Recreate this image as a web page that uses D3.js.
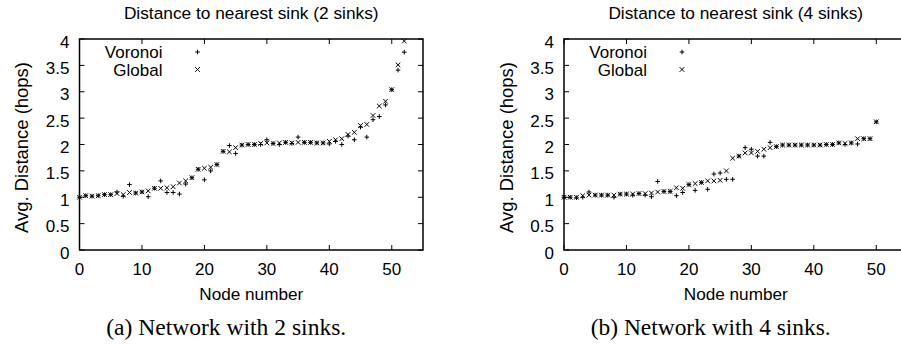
<!DOCTYPE html>
<html>
<head>
<meta charset="utf-8">
<script src="https://cdn.jsdelivr.net/npm/d3@7"></script>
<style>
  body { margin: 0; background: #fff; }
  svg { display: block; }
  text { font-family: "Liberation Sans", Arial, sans-serif; fill: #000; }
  .caption { font-family: "Liberation Serif", "Times New Roman", serif; }
</style>
</head>
<body>
<svg id="chart" width="901" height="344"></svg>
<script>
// values, index = node number
const voronoi2 = [1.0, 1.03, 1.02, 1.03, 1.05, 1.05, 1.1, 1.02, 1.24, 1.08, 1.1, 1.01, 1.17, 1.31, 1.09, 1.09, 1.06, 1.25, 1.37, 1.53,
  1.33, 1.5, 1.62, 1.87, 1.98, 1.83, 1.99, 2.0, 2.0, 2.0, 2.09, 2.02, 2.0, 2.04, 2.02, 2.14, 2.04, 2.04, 2.03, 2.03,
  2.01, 2.06, 2.0, 2.16, 2.09, 2.33, 2.14, 2.47, 2.53, 2.75, 3.04, 3.41, 3.75];
const global2 = [1.0, 1.03, 1.02, 1.03, 1.05, 1.05, 1.07, 1.05, 1.09, 1.08, 1.1, 1.12, 1.17, 1.17, 1.18, 1.2, 1.27, 1.31, 1.37, 1.53,
  1.55, 1.57, 1.62, 1.87, 1.86, 1.94, 1.99, 2.0, 2.0, 2.02, 2.03, 2.02, 2.03, 2.04, 2.03, 2.04, 2.04, 2.04, 2.03, 2.03,
  2.06, 2.09, 2.11, 2.19, 2.23, 2.36, 2.38, 2.55, 2.73, 2.82, 3.04, 3.51, 3.96];
const voronoi4 = [1.0, 1.0, 0.99, 1.0, 1.1, 1.04, 1.04, 1.04, 1.0, 1.06, 1.06, 1.04, 1.07, 1.04, 1.01, 1.3, 1.11, 1.11, 1.03, 1.09,
  1.24, 1.13, 1.28, 1.15, 1.44, 1.46, 1.34, 1.34, 1.78, 1.94, 1.91, 1.78, 1.78, 2.04, 1.96, 1.99, 1.99, 1.99, 1.99, 1.99,
  1.99, 1.99, 2.0, 2.0, 2.03, 2.0, 2.03, 2.01, 2.11, 2.11, 2.43];
const global4 = [1.0, 1.0, 1.0, 1.03, 1.04, 1.04, 1.04, 1.04, 1.04, 1.06, 1.06, 1.06, 1.07, 1.07, 1.08, 1.1, 1.11, 1.11, 1.18, 1.17,
  1.24, 1.26, 1.28, 1.31, 1.31, 1.32, 1.5, 1.74, 1.78, 1.84, 1.84, 1.87, 1.91, 1.94, 1.96, 1.99, 1.99, 1.99, 1.99, 1.99,
  1.99, 1.99, 2.0, 2.0, 2.03, 2.02, 2.03, 2.11, 2.11, 2.11, 2.43];

const xTicks = [0, 10, 20, 30, 40, 50];
const yTicks = [0, 0.5, 1, 1.5, 2, 2.5, 3, 3.5, 4];
const seriesNames = ['Voronoi', 'Global'];

const panels = [
  { left: 79.5, title: 'Distance to nearest sink (2 sinks)', caption: '(a) Network with 2 sinks.', series: [voronoi2, global2] },
  { left: 564, title: 'Distance to nearest sink (4 sinks)', caption: '(b) Network with 4 sinks.', series: [voronoi4, global4] }
];

const svg = d3.select('#chart');
const plotTop = 39, plotBottom = 250, plotW = 343.5;
const tick = 5, ms = 2.3;

// scale a text's font so its drawn width matches the one measured on the reference
const fit = (sel, width) => {
  const fs = +sel.attr('font-size');
  const w = sel.node().getComputedTextLength();
  sel.attr('font-size', (fs * width / w).toFixed(2));
  return sel;
};

// gnuplot point types: + and x
const plus = (g, x, y) => g.append('path').attr('d', `M${x - ms},${y}H${x + ms}M${x},${y - ms}V${y + ms}`);
const cross = (g, x, y) => g.append('path').attr('d', `M${x - ms},${y - ms}L${x + ms},${y + ms}M${x - ms},${y + ms}L${x + ms},${y - ms}`);
const markers = [plus, cross];

panels.forEach(p => {
  const x = d3.scaleLinear().domain([0, 55]).range([p.left, p.left + plotW]);
  const y = d3.scaleLinear().domain([0, 4]).range([plotBottom, plotTop]);
  const g = svg.append('g');
  const cx = p.left + plotW / 2;

  // ticks on all four sides, pointing inward
  const ticks = g.append('g').attr('stroke', '#000').attr('stroke-width', 1);
  xTicks.forEach(t => {
    ticks.append('line').attr('x1', x(t)).attr('x2', x(t)).attr('y1', plotBottom).attr('y2', plotBottom - tick);
    ticks.append('line').attr('x1', x(t)).attr('x2', x(t)).attr('y1', plotTop).attr('y2', plotTop + tick);
  });
  yTicks.forEach(t => {
    ticks.append('line').attr('x1', p.left).attr('x2', p.left + tick).attr('y1', y(t)).attr('y2', y(t));
    ticks.append('line').attr('x1', p.left + plotW).attr('x2', p.left + plotW - tick).attr('y1', y(t)).attr('y2', y(t));
  });

  g.append('rect')
    .attr('x', p.left).attr('y', plotTop)
    .attr('width', plotW).attr('height', plotBottom - plotTop)
    .attr('fill', 'none').attr('stroke', '#000').attr('stroke-width', 1.5);

  g.selectAll('.xl').data(xTicks).enter().append('text')
    .attr('x', d => x(d)).attr('y', 275)
    .attr('text-anchor', 'middle').attr('font-size', 17)
    .text(d => d);
  g.selectAll('.yl').data(yTicks).enter().append('text')
    .attr('x', p.left - 10).attr('y', d => y(d)).attr('dy', '0.5em')
    .attr('text-anchor', 'end').attr('font-size', 17)
    .text(d => d);

  fit(g.append('text').attr('x', cx).attr('y', 18.5)
    .attr('text-anchor', 'middle').attr('font-size', 16).text(p.title), 255);
  fit(g.append('text').attr('x', cx).attr('y', 300)
    .attr('text-anchor', 'middle').attr('font-size', 17).text('Node number'), 104);
  fit(g.append('text')
    .attr('transform', `translate(${p.left - 51.5},${(plotTop + plotBottom) / 2 + 3}) rotate(-90)`)
    .attr('text-anchor', 'middle').attr('font-size', 17).text('Avg. Distance (hops)'), 171);
  fit(g.append('text').attr('class', 'caption').attr('x', cx - 25).attr('y', 335)
    .attr('text-anchor', 'middle').attr('font-size', 20).text(p.caption), 240);

  const pts = g.append('g').attr('stroke', '#000').attr('stroke-width', 1).attr('fill', 'none');
  p.series.forEach((vals, si) => {
    vals.forEach((v, n) => markers[si](pts, x(n), y(v)));
  });

  // legend
  seriesNames.forEach((name, si) => {
    const ly = 52 + si * 17.5;
    g.append('text').attr('x', p.left + 83).attr('y', ly).attr('dy', '0.36em')
      .attr('text-anchor', 'end').attr('font-size', 17).text(name);
    markers[si](pts, p.left + 118, ly);
  });
});
</script>
</body>
</html>
